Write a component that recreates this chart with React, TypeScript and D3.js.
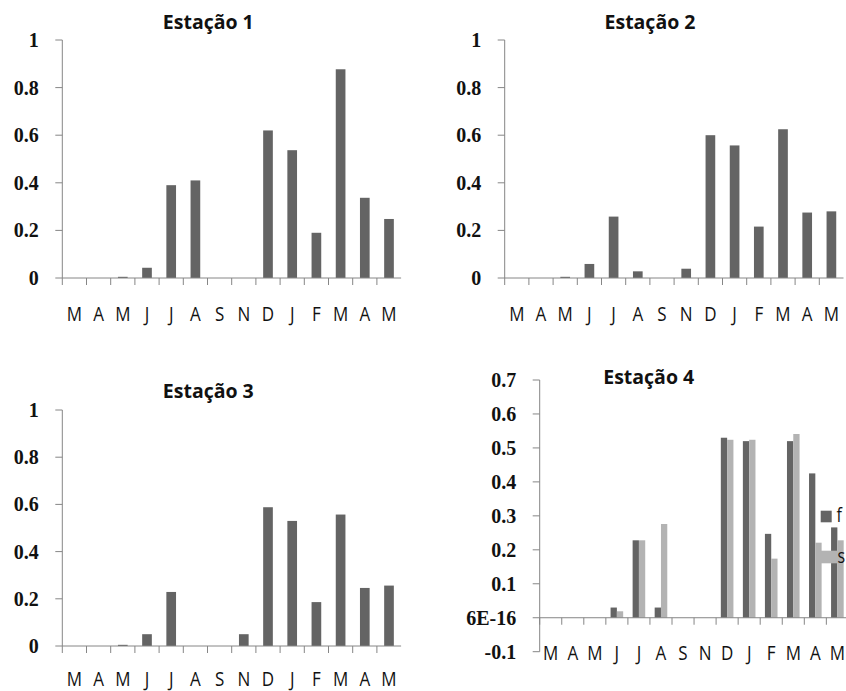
import React from "react";
import * as d3 from "d3";

const months = ["M", "A", "M", "J", "J", "A", "S", "N", "D", "J", "F", "M", "A", "M"];
const est1 = [0, 0, 0.005, 0.043, 0.39, 0.41, 0, 0, 0.62, 0.537, 0.19, 0.877, 0.337, 0.248];
const est2 = [0, 0, 0.005, 0.059, 0.258, 0.028, 0, 0.039, 0.6, 0.557, 0.216, 0.625, 0.275, 0.28];
const est3 = [0, 0, 0.005, 0.05, 0.229, 0, 0, 0.05, 0.588, 0.53, 0.186, 0.557, 0.246, 0.256];
const est4f = [0, 0, 0, 0.03, 0.228, 0.03, 0, 0, 0.53, 0.52, 0.247, 0.52, 0.425, 0.266];
const est4s = [0, 0, 0, 0.019, 0.228, 0.276, 0, 0, 0.524, 0.524, 0.174, 0.541, 0.221, 0.228];
const ticksA = [0, 0.2, 0.4, 0.6, 0.8, 1];
const ticksALabels = ["0", "0.2", "0.4", "0.6", "0.8", "1"];
const ticksB = [-0.1, 0, 0.1, 0.2, 0.3, 0.4, 0.5, 0.6, 0.7];
const ticksBLabels = ["-0.1", "6E-16", "0.1", "0.2", "0.3", "0.4", "0.5", "0.6", "0.7"];
const titles = ["Estação 1", "Estação 2", "Estação 3", "Estação 4"];
const seriesNames = ["f", "s"];

const DARK = "#646464";
const LIGHT = "#b3b3b3";
const AXIS = "#868686";

type PanelProps = {
  title: string;
  series: number[][];
  colors: string[];
  x0: number;
  bw: number;
  yDomain: [number, number];
  yRange: [number, number];
  ticks: number[];
  tickLabels: string[];
  titleX: number;
  titleY: number;
  labelBaseline: number;
  axisAt: number;
};

function Panel(p: PanelProps) {
  const idx = months.map((_, i) => i);
  const x = d3
    .scaleBand<number>()
    .domain(idx)
    .range([p.x0, p.x0 + p.bw * months.length])
    .paddingInner(0)
    .paddingOuter(0);
  const nS = p.series.length;
  // gap width 150%: group width = bw * n/(n+1.5)
  const groupW = (x.bandwidth() * nS) / (nS + 1.5);
  const barW = groupW / nS;
  const y = d3.scaleLinear().domain(p.yDomain).range(p.yRange);
  const y0 = y(p.axisAt);
  const xEnd = p.x0 + p.bw * months.length;
  return (
    <g>
      <text
        x={p.titleX}
        y={p.titleY}
        textAnchor="middle"
        fontFamily="'Open Sans', sans-serif"
        fontWeight="bold"
        fontSize={19.5}
        fill="#111"
      >
        {p.title}
      </text>
      {p.series.map((s, si) =>
        s.map((v, i) => {
          const bx = (x(i) as number) + (x.bandwidth() - groupW) / 2 + si * barW;
          const top = Math.min(y(v), y0);
          const h = Math.abs(y(v) - y0);
          return <rect key={`${si}-${i}`} x={bx} y={top} width={barW} height={h} fill={p.colors[si]} />;
        })
      )}
      {/* y axis */}
      <line x1={p.x0} x2={p.x0} y1={p.yRange[1]} y2={p.yRange[0]} stroke={AXIS} strokeWidth={1} />
      {p.ticks.map((t, i) => (
        <g key={"yt" + i}>
          <line x1={p.x0 - 7} x2={p.x0} y1={y(t)} y2={y(t)} stroke={AXIS} strokeWidth={1} />
          <text
            x={p.x0 - 23.5}
            y={y(t)}
            dy="0.35em"
            textAnchor="end"
            fontFamily="'Liberation Serif', serif"
            fontWeight="bold"
            fontSize={20}
            fill="#111"
          >
            {p.tickLabels[i]}
          </text>
        </g>
      ))}
      {/* x axis */}
      <line x1={p.x0} x2={xEnd} y1={y0} y2={y0} stroke={AXIS} strokeWidth={1} />
      {idx.map((i) => (
        <line
          key={"xt" + i}
          x1={x(i) as number}
          x2={x(i) as number}
          y1={y0}
          y2={y0 + 7}
          stroke={AXIS}
          strokeWidth={1}
        />
      ))}
      {months.map((m, i) => (
        <g key={"xl" + i} transform={`translate(${(x(i) as number) + x.bandwidth() / 2},${p.labelBaseline}) scale(1,1.2)`}>
          <text textAnchor="middle" fontFamily="'Open Sans', sans-serif" fontSize={17} fill="#111">
            {m}
          </text>
        </g>
      ))}
    </g>
  );
}

export default function App() {
  return (
    <svg
      width={846}
      height={691}
      style={{ position: "absolute", left: 0, top: 0, background: "#fff" }}
    >
      <rect x={0} y={0} width={846} height={691} fill="#fff" />
      <Panel
        title={titles[0]}
        series={[est1]}
        colors={[DARK]}
        x0={62.3}
        bw={24.2}
        yDomain={[0, 1]}
        yRange={[278, 40]}
        ticks={ticksA}
        tickLabels={ticksALabels}
        titleX={208.3}
        titleY={29.3}
        labelBaseline={321.3}
        axisAt={0}
      />
      <Panel
        title={titles[1]}
        series={[est2]}
        colors={[DARK]}
        x0={504.7}
        bw={24.2}
        yDomain={[0, 1]}
        yRange={[278, 40]}
        ticks={ticksA}
        tickLabels={ticksALabels}
        titleX={650}
        titleY={29.3}
        labelBaseline={321.3}
        axisAt={0}
      />
      <Panel
        title={titles[2]}
        series={[est3]}
        colors={[DARK]}
        x0={62.3}
        bw={24.2}
        yDomain={[0, 1]}
        yRange={[646, 410]}
        ticks={ticksA}
        tickLabels={ticksALabels}
        titleX={208.3}
        titleY={397.7}
        labelBaseline={685.5}
        axisAt={0}
      />
      <Panel
        title={titles[3]}
        series={[est4f, est4s]}
        colors={[DARK, LIGHT]}
        x0={539.7}
        bw={22.05}
        yDomain={[-0.1, 0.7]}
        yRange={[651.7, 380]}
        ticks={ticksB}
        tickLabels={ticksBLabels}
        titleX={648.7}
        titleY={384}
        labelBaseline={659.6}
        axisAt={0}
      />
      {/* legend */}
      <rect x={820.7} y={510.7} width={11} height={11.6} fill={DARK} />
      <g transform="translate(836.5,522) scale(1,1.2)">
        <text fontFamily="'Open Sans', sans-serif" fontSize={16} fill="#111">
          {seriesNames[0]}
        </text>
      </g>
      <rect x={820.7} y={550.7} width={17} height={12.6} fill={LIGHT} />
      <g transform="translate(837.5,563) scale(1,1.2)">
        <text fontFamily="'Open Sans', sans-serif" fontSize={16} fill="#111">
          {seriesNames[1]}
        </text>
      </g>
    </svg>
  );
}
